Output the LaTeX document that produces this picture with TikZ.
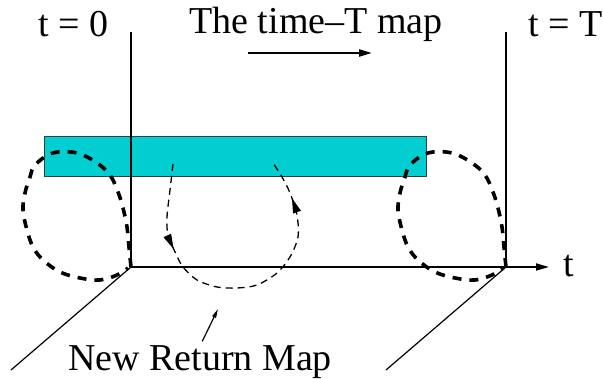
\documentclass[tikz,border=0pt]{standalone}
\usepackage{fontspec}
\setmainfont{Liberation Serif}
\usetikzlibrary{arrows.meta,decorations.markings}
\definecolor{rmink}{HTML}{000000}
\definecolor{rmcyan}{HTML}{00CED1}
\definecolor{rmedge}{HTML}{3C3C3C}
\tikzset{
  rm text/.style={font=\fontsize{38}{40}\selectfont, text=rmink, inner sep=0pt},
  rm axis/.style={draw=rmink, line width=1.8pt},
  rm ray/.style={draw=rmink, line width=1.2pt},
  rm head/.style={-{Triangle[length=13pt,width=7pt]}},
  rm strip/.style={draw=rmedge, line width=1pt, fill=rmcyan},
  rm orbit/.style={draw=rmink, line width=3.6pt, dash pattern=on 9pt off 8pt},
  rm flow/.style={draw=rmink, line width=1.3pt, dash pattern=on 7pt off 5pt},
  rm flow marks/.style={postaction={decorate}, decoration={markings,
      mark=at position 0.26 with {\arrow{Triangle[length=15pt,width=8pt]}},
      mark=at position 0.88 with {\arrow{Triangle[length=15pt,width=8pt]}}}}
}
\begin{document}
\begin{tikzpicture}[x=1pt, y=1pt]
  \useasboundingbox (0,0) rectangle (603,379);

  % corners of the two sections
  \coordinate (orig0) at (131,112);
  \coordinate (origT) at (506,112);
  \coordinate (top0) at (131,347);
  \coordinate (topT) at (506,347);
  \coordinate (foot0) at (11,9);
  \coordinate (footT) at (386,9);
  \coordinate (tip) at (549,112);
  \coordinate (mapfrom) at (248,326);
  \coordinate (mapto) at (372,326);
  \coordinate (rettip) at (218,70);

  \node[rm strip, minimum width=382pt, minimum height=40pt, anchor=south west] (strip) at (44,202) {};

  \node[rm text, anchor=base] (tzero) at (73,342) {t = 0};
  \node[rm text, anchor=base] (tend) at (566,342) {t = T};
  \node[rm text, anchor=base] (maplbl) at (316,345) {The time--T map};
  \node[rm text, anchor=base] (tlbl) at (569,102) {t};
  \node[rm text, anchor=base] (returnlbl) at (200,8) {New Return Map};

  \draw[rm axis] (orig0) -- (top0);
  \draw[rm axis] (origT) -- (topT);
  \draw[rm axis, rm head] (orig0) -- (tip);
  \draw[rm ray] (orig0) -- (foot0);
  \draw[rm ray] (origT) -- (footT);
  \draw[rm axis, line width=2.2pt, rm head] (mapfrom) -- (mapto);
  \draw[rm ray, -{Triangle[length=9pt,width=4pt]}, shorten <=5pt] (returnlbl.north) -- (rettip);

  % loops through the two corners
  \foreach \o in {orig0,origT}
    \draw[rm orbit, shift={(\o)}] plot[smooth, tension=0.6] coordinates {(0,0) (-2,20) (-4,40)
      (-8,59) (-13,75) (-21,92) (-34,104) (-54,114) (-78,114) (-96,102) (-101,90)
      (-106,74) (-108,57) (-104,37) (-98,20) (-88,7) (-71,-5) (-51,-11) (-31,-13)
      (-14,-8) (-3,-1)};

  % the return loop
  \draw[rm flow, rm flow marks] plot[smooth] coordinates {(173,215) (170,189) (167,162)
    (168,144) (176,125) (183,112) (197,99) (217,92) (237,91) (257,94) (277,106)
    (290,122) (298,142) (297,164) (290,186) (282,202) (273,216)};
\end{tikzpicture}
\end{document}
